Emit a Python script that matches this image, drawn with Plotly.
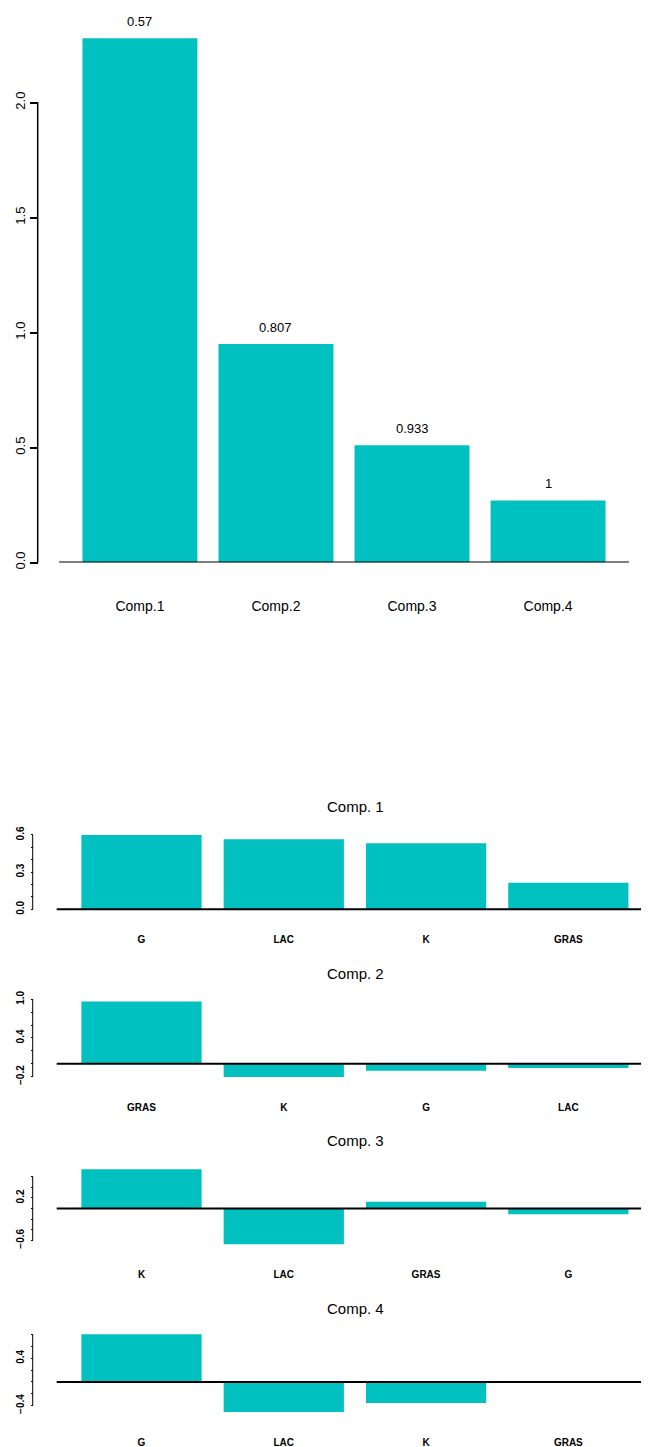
import plotly.graph_objects as go

# ---------------- data ----------------
comp_names = ["Comp.1", "Comp.2", "Comp.3", "Comp.4"]
variances = [2.28, 0.95, 0.51, 0.27]
cum_prop_labels = ["0.57", "0.807", "0.933", "1"]

load_titles = ["Comp. 1", "Comp. 2", "Comp. 3", "Comp. 4"]
comp1_vars = ["G", "LAC", "K", "GRAS"]
comp1_vals = [0.60, 0.565, 0.533, 0.215]
comp2_vars = ["GRAS", "K", "G", "LAC"]
comp2_vals = [0.967, -0.206, -0.11, -0.067]
comp3_vars = ["K", "LAC", "GRAS", "G"]
comp3_vals = [0.74, -0.675, 0.128, -0.109]
comp4_vars = ["G", "LAC", "K", "GRAS"]
comp4_vals = [0.81, -0.51, -0.357, 0.01]

# ---------------- layout constants ----------------
OFF = 8                      # page body margin
W, H = 649 - OFF, 1447 - OFF
BAR = "#00C0C0"
SANS = "Liberation Sans, Arial, sans-serif"


def fx(px):
    return (px - OFF) / W


def fy(px):
    return 1 - (px - OFF) / H


fig = go.Figure()

# ----- top: variances -----
fig.add_trace(go.Bar(x=comp_names, y=variances, marker_color=BAR,
                     marker_line_width=0, xaxis="x", yaxis="y", showlegend=False))
top_y_px = (12, 562.5)  # top, bottom of plotting area in px
top_range = [0, (top_y_px[1] - top_y_px[0]) / 229.95]
layout = dict(
    xaxis=dict(domain=[fx(59), fx(629)], anchor="y", range=[-0.595, 3.595],
               showline=False, ticks="", showgrid=False, zeroline=False,
               tickfont=dict(family=SANS, size=14, color="black"),
               ticklabelstandoff=33),
    yaxis=dict(domain=[fy(top_y_px[1]), fy(top_y_px[0])], anchor="free", position=fx(37.7),
               range=top_range, showline=False, showgrid=False, zeroline=False,
               tick0=0, dtick=0.5, tickformat=".1f", ticks="outside", ticklen=8,
               tickwidth=1.5, tickcolor="black", tickangle=-90,
               tickfont=dict(family=SANS, size=13, color="black")),
)
shapes = [
    dict(type="line", xref="paper", yref="y", x0=fx(37.7), x1=fx(37.7), y0=0, y1=2.0,
         line=dict(color="black", width=1.5)),
    dict(type="line", xref="x domain", yref="y", x0=0, x1=1, y0=0, y1=0,
         line=dict(color="black", width=2), layer="above"),
]
annotations = []
for name, v, lab in zip(comp_names, variances, cum_prop_labels):
    annotations.append(dict(x=name, y=v, xref="x", yref="y", text=lab, showarrow=False,
                            yshift=17, font=dict(family=SANS, size=13, color="black")))

# ----- bottom: loadings -----
panels = [
    dict(vars=comp1_vars, vals=comp1_vals, rng=[-0.024, 0.624], px=(832.0, 912.3),
         tick0=0.0, dtick=0.3, minor=0.1, axis=(0.0, 0.6), title_y=806.7),
    dict(vars=comp2_vars, vals=comp2_vals, rng=[-0.253, 1.014], px=(998.4, 1080.0),
         tick0=-0.2, dtick=0.6, minor=0.2, axis=(-0.2, 1.0), title_y=973.3),
    dict(vars=comp3_vars, vals=comp3_vals, rng=[-0.73, 0.797], px=(1166.3, 1247.2),
         tick0=-0.6, dtick=0.8, minor=0.2, axis=(-0.6, 0.6), title_y=1140.7),
    dict(vars=comp4_vars, vals=comp4_vals, rng=[-0.563, 0.863], px=(1331.1, 1415.1),
         tick0=-0.4, dtick=0.8, minor=0.2, axis=(-0.4, 0.8), title_y=1308.3),
]
AX_X = 32.7
for i, (p, title) in enumerate(zip(panels, load_titles)):
    n = i + 2
    xa, ya = f"x{n}", f"y{n}"
    fig.add_trace(go.Bar(x=p["vars"], y=p["vals"], marker_color=BAR, marker_line_width=0,
                         xaxis=xa, yaxis=ya, showlegend=False))
    layout[f"xaxis{n}"] = dict(domain=[fx(56.7), 1.0], anchor=ya, range=[-0.596, 3.567],
                               showline=False, ticks="", showgrid=False, zeroline=False,
                               tickfont=dict(family=SANS, size=10, color="black", weight="bold"),
                               ticklabelstandoff=20)
    layout[f"yaxis{n}"] = dict(domain=[fy(p["px"][1]), fy(p["px"][0])], anchor="free",
                               position=fx(AX_X), range=p["rng"], showline=False,
                               showgrid=False, zeroline=False, tick0=p["tick0"],
                               dtick=p["dtick"], tickformat=".1f", ticks="outside",
                               ticklen=2, tickwidth=1, tickcolor="black", tickangle=-90,
                               tickfont=dict(family=SANS, size=10, color="black", weight="bold"),
                               ticklabelstandoff=3,
                               minor=dict(tick0=p["tick0"], dtick=p["minor"], ticks="outside",
                                          ticklen=2, tickwidth=1, tickcolor="black",
                                          showgrid=False))
    shapes.append(dict(type="line", xref="paper", yref=ya, x0=fx(AX_X), x1=fx(AX_X),
                       y0=p["axis"][0], y1=p["axis"][1], line=dict(color="black", width=1)))
    shapes.append(dict(type="line", xref=f"{xa} domain", yref=ya, x0=0, x1=1, y0=0, y1=0,
                       line=dict(color="black", width=2), layer="above"))
    annotations.append(dict(x=fx(355), y=fy(p["title_y"]), xref="paper", yref="paper",
                            text=title, showarrow=False, xanchor="center", yanchor="middle",
                            font=dict(family=SANS, size=15, color="black")))

fig.update_layout(**layout)
fig.update_layout(
    width=W, height=H, margin=dict(l=0, r=0, t=0, b=0),
    template="none", paper_bgcolor="white", plot_bgcolor="white",
    bargap=0.155, shapes=shapes, annotations=annotations, showlegend=False,
)
fig.write_html("out.html")
